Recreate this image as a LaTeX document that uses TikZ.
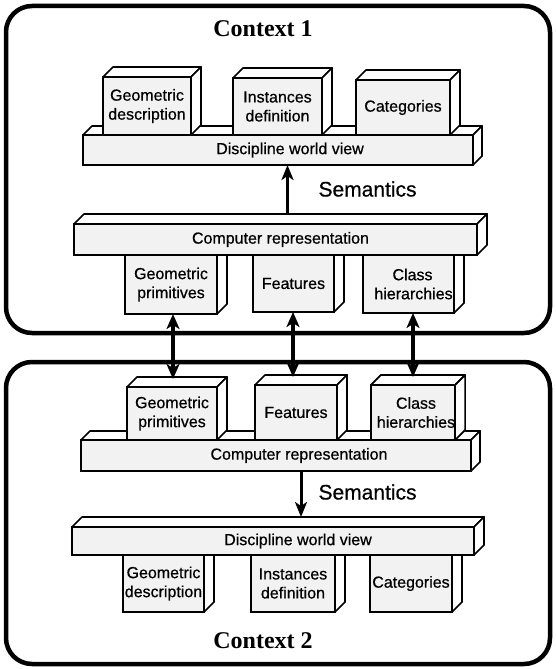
\documentclass[tikz,border=0pt]{standalone}
\usepackage{fontspec}
\setmainfont{Liberation Serif}
\newfontfamily\labfont[FakeBold=0.6]{Liberation Sans}
\usetikzlibrary{calc,arrows.meta}

\tikzset{
  frame/.style={draw, line width=4.5pt, rounded corners=26pt},
  ctx/.style={font=\bfseries\fontsize{24}{27}\selectfont},
  facebox/.style={draw, line width=1.7pt, fill=black!5, inner sep=0pt, outer sep=0pt,
    align=center, font=\labfont\fontsize{16}{19}\selectfont},
  face/.style={draw, line width=1.7pt, fill=white, line join=round},
  plabel/.style={font=\labfont\fontsize{16}{19}\selectfont},
  sem/.style={font=\labfont\fontsize{21}{25}\selectfont, anchor=west},
  tip/.style={Stealth[length=15pt,width=12pt,inset=4pt]},
  semarrow/.style={line width=3pt, -{Stealth[length=15pt,width=12pt,inset=4pt]}},
  biarrow/.style={line width=3.2pt, {Stealth[length=15pt,width=13pt,inset=4pt]}-{Stealth[length=15pt,width=13pt,inset=4pt]}},
}

% box standing on a slab: front face, top face and right face
% #1 name, #2 x1, #3 y1, #4 x2, #5 y2, #6 depth, #7 text
\newcommand\standbox[7]{%
  \node[facebox, minimum width={#4-#2}, minimum height={#5-#3}] (#1) at ({(#2+#4)/2},{(#3+#5)/2}) {#7};
  \draw[face] (#1.north west) -- ++(#6,-#6) -- ($(#1.north east)+(#6,-#6)$) -- (#1.north east) -- cycle;
  \draw[face] (#1.north east) -- ++(#6,-#6) -- ($(#1.south east)+(#6,-#6)$) -- (#1.south east) -- cycle;
}
% box hanging under a slab: front face and right face only
\newcommand\hangbox[7]{%
  \node[facebox, minimum width={#4-#2}, minimum height={#5-#3}] (#1) at ({(#2+#4)/2},{(#3+#5)/2}) {#7};
  \draw[face] (#1.north east) -- ++(#6,-#6) -- ($(#1.south east)+(#6,-#6)$) -- (#1.south east) -- cycle;
}

\begin{document}
\begin{tikzpicture}[x=1pt, y=-1pt]
  \useasboundingbox (0,0) rectangle (556,669);

  % the two contexts
  \draw[frame] (6,6) rectangle (550,333);
  \draw[frame] (6,362) rectangle (550,664);
  \node[ctx] (c1) at (263,29) {Context 1};
  \node[ctx] (c2) at (263,641) {Context 2};

  % ---- Context 1 ----
  \standbox{DWV1}{83}{135}{473}{165}{9}{}
  \node[plabel] (DWV1t) at ($(DWV1)+(12,0)$) {Discipline world view};
  \standbox{GD1}{103}{77}{191}{135}{10}{Geometric\\description}
  \standbox{ID1}{233}{78}{322}{135}{10}{Instances\\definition}
  \standbox{CAT1}{356}{80}{450}{135}{10}{Categories}

  \hangbox{GP1}{125}{255}{217}{314}{10}{Geometric\\primitives}
  \hangbox{FE1}{253}{255}{334}{312}{10}{Features}
  \hangbox{CH1}{363}{255}{454}{313}{10}{\hspace*{8pt}Class\\\hspace*{10pt}hierarchies}
  \standbox{CR1}{74}{224}{477}{255}{10}{}
  \node[plabel] (CR1t) at ($(CR1)+(5,0)$) {Computer representation};

  \coordinate (s1) at ($(CR1.north)+(12,-10)$);
  \draw[semarrow] (s1) -- (s1 |- DWV1.south);
  \node[sem] (sem1) at (315,189) {Semantics};

  % ---- Context 2 ----
  \standbox{CR2}{81}{440}{471}{471}{9}{}
  \node[plabel] (CR2t) at ($(CR2)+(23,0)$) {Computer representation};
  \standbox{GP2}{127}{387}{217}{440}{10}{Geometric\\primitives}
  \standbox{FE2}{255}{385}{337}{440}{10}{Features}
  \standbox{CH2}{373}{385}{453}{440}{10}{\hspace*{6pt}Class\\\hspace*{6pt}hierarchies}

  \hangbox{GD2}{123}{555}{204}{612}{10}{Geometric\\description}
  \hangbox{ID2}{251}{555}{335}{612}{10}{Instances\\definition}
  \hangbox{CAT2}{370}{555}{452}{612}{10}{Categories}
  \standbox{DWV2}{72}{527}{474}{555}{10}{}
  \node[plabel] (DWV2t) at ($(DWV2)+(25,0)$) {Discipline world view};

  \coordinate (s2) at ($(CR2.south)+(25,0)$);
  \coordinate (s2e) at ($(DWV2.north)+(0,-10)$);
  \draw[semarrow] (s2) -- (s2 |- s2e);
  \node[sem] (sem2) at (315,492) {Semantics};

  % ---- links between the two computer representations ----
  \coordinate (GP2t) at ($(GP2.north)+(1,-8)$);
  \coordinate (FE2t) at ($(FE2.north)+(-3,-8)$);
  \coordinate (CH2t) at ($(CH2.north)+(0,-8)$);
  \draw[biarrow] (GP2t |- GP1.south) -- (GP2t);
  \draw[biarrow] (FE2t |- FE1.south) -- (FE2t);
  \draw[biarrow] (CH2t |- CH1.south) -- (CH2t);
\end{tikzpicture}
\end{document}
